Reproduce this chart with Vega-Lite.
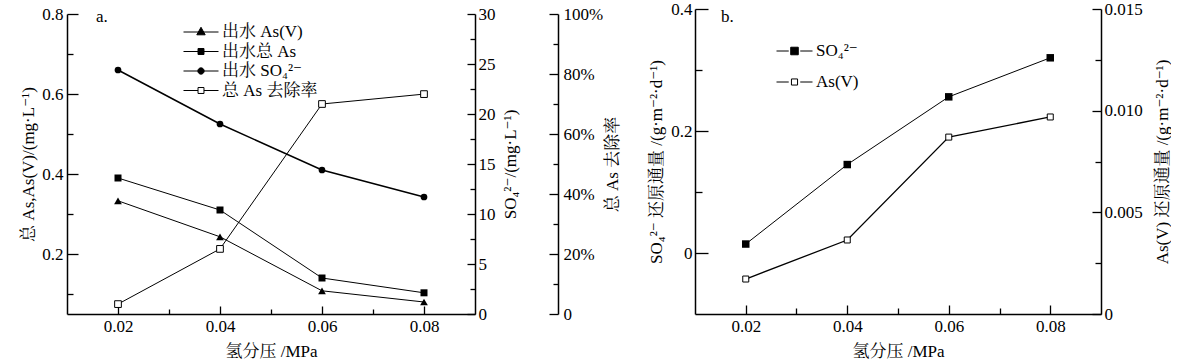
{
  "$schema": "https://vega.github.io/schema/vega-lite/v6.json",
  "padding": {"left": 19, "top": 0, "right": 0, "bottom": 0},
  "config": {
    "view": {"stroke": null},
    "font": "Liberation Serif, Noto Serif CJK SC, Noto Sans CJK SC",
    "axis": {
      "labelFont": "Liberation Serif, DejaVu Serif, Noto Sans CJK SC",
      "titleFont": "Liberation Serif, DejaVu Serif, Noto Serif CJK SC, Noto Sans CJK SC",
      "labelFontSize": 17, "titleFontSize": 17, "titleFontWeight": "normal",
      "labelColor": "black", "titleColor": "black",
      "domainColor": "black", "tickColor": "black",
      "domainWidth": 1.5, "tickWidth": 1.3, "grid": false,
      "labelFlush": false, "labelOverlap": false
    },
    "legend": {
      "labelFont": "Liberation Serif, DejaVu Serif, Noto Serif CJK SC, Noto Sans CJK SC",
      "labelFontSize": 17, "labelColor": "black", "padding": 0, "labelOffset": 3,
      "symbolStrokeWidth": 1, "symbolOpacity": 1, "clipHeight": 17
    },
    "concat": {"spacing": 26}
  },
  "hconcat": [
    {
      "width": 408, "height": 305,
      "data": {"values": [
        {"p": 0.02, "s": "出水 As(V)", "v": 0.333},
        {"p": 0.04, "s": "出水 As(V)", "v": 0.243},
        {"p": 0.06, "s": "出水 As(V)", "v": 0.108},
        {"p": 0.08, "s": "出水 As(V)", "v": 0.080},
        {"p": 0.02, "s": "出水总 As", "v": 0.39},
        {"p": 0.04, "s": "出水总 As", "v": 0.31},
        {"p": 0.06, "s": "出水总 As", "v": 0.14},
        {"p": 0.08, "s": "出水总 As", "v": 0.103},
        {"p": 0.02, "s": "出水 SO₄²⁻", "v": 24.4},
        {"p": 0.04, "s": "出水 SO₄²⁻", "v": 19.0},
        {"p": 0.06, "s": "出水 SO₄²⁻", "v": 14.4},
        {"p": 0.08, "s": "出水 SO₄²⁻", "v": 11.7},
        {"p": 0.02, "s": "总 As 去除率", "v": 0.033},
        {"p": 0.04, "s": "总 As 去除率", "v": 0.217},
        {"p": 0.06, "s": "总 As 去除率", "v": 0.70},
        {"p": 0.08, "s": "总 As 去除率", "v": 0.733}
      ]},
      "encoding": {
        "x": {"field": "p", "type": "quantitative", "scale": {"domain": [0.01, 0.09]},
          "axis": {"title": "氢分压 /MPa", "values": [0.02, 0.03, 0.04, 0.05, 0.06, 0.07, 0.08],
            "labelExpr": "round(datum.value*100)%2==0 ? format(datum.value,'.2f') : ''",
            "tickSize": {"condition": {"test": "round(datum.value*100)%2==0", "value": -8}, "value": -5},
            "labelPadding": 12, "titlePadding": 6}}
      },
      "layer": [
        {
          "encoding": {"y": {"field": "v", "type": "quantitative", "scale": {"domain": [0.05, 0.8], "range": [305, 5]},
            "axis": {"orient": "left", "title": "总 As,As(V)/(mg·L⁻¹)",
              "values": [0.1, 0.2, 0.3, 0.4, 0.5, 0.6, 0.7, 0.8],
              "labelExpr": "round(datum.value*10)%2==0 ? format(datum.value,'.1f') : ''",
              "tickSize": {"condition": {"test": "round(datum.value*10)%2==0", "value": -11}, "value": -6},
              "labelPadding": 15, "titlePadding": 4}}},
          "layer": [
            {"transform": [{"filter": "datum.s=='出水 As(V)' || datum.s=='出水总 As'"}],
             "mark": {"type": "line", "color": "black", "strokeWidth": 1},
             "encoding": {"detail": {"field": "s"}}},
            {"transform": [{"filter": "datum.s=='出水 As(V)'"}],
             "mark": {"type": "point", "shape": "triangle-up", "filled": true, "color": "black", "opacity": 1, "size": 60}},
            {"transform": [{"filter": "datum.s=='出水总 As'"}],
             "mark": {"type": "point", "shape": "square", "filled": true, "color": "black", "opacity": 1, "size": 49}},
            {"transform": [{"filter": "datum.s=='出水总 As' && datum.p==0.02"}],
             "mark": {"type": "text", "text": "a.", "font": "Liberation Serif", "fontSize": 17, "align": "left", "baseline": "middle", "color": "black"},
             "encoding": {"x": {"datum": 0.0157, "type": "quantitative"}, "y": {"datum": 0.7925, "type": "quantitative"}}}
          ]
        },
        {
          "transform": [{"filter": "datum.s=='出水 SO₄²⁻'"}],
          "encoding": {"y": {"field": "v", "type": "quantitative", "scale": {"domain": [0, 30], "range": [305, 5]},
            "axis": {"orient": "right", "title": "SO₄²⁻/(mg·L⁻¹)", "titleAngle": -90, "titleBaseline": "top",
              "values": [0, 2.5, 5, 7.5, 10, 12.5, 15, 17.5, 20, 22.5, 25, 27.5, 30],
              "labelExpr": "datum.value%5==0 ? format(datum.value,'d') : ''",
              "tickSize": {"condition": {"test": "datum.value%5==0", "value": -8}, "value": -5},
              "labelPadding": 11, "titlePadding": 7}}},
          "layer": [
            {"mark": {"type": "line", "color": "black", "strokeWidth": 1.5}},
            {"mark": {"type": "point", "shape": "circle", "filled": true, "color": "black", "opacity": 1, "size": 45}}
          ]
        },
        {
          "transform": [{"filter": "datum.s=='总 As 去除率'"}],
          "encoding": {"y": {"field": "v", "type": "quantitative", "scale": {"domain": [0, 1], "range": [305, 5]},
            "axis": {"orient": "right", "offset": 83, "title": "总 As 去除率", "titleAngle": -90, "titleBaseline": "top",
              "values": [0, 0.1, 0.2, 0.3, 0.4, 0.5, 0.6, 0.7, 0.8, 0.9, 1],
              "labelExpr": "round(datum.value*10)%2==0 ? (datum.value==0 ? '0' : format(datum.value,'.0%')) : ''",
              "tickSize": {"condition": {"test": "round(datum.value*10)%2==0", "value": -9}, "value": -5},
              "labelPadding": 14, "titlePadding": 2}}},
          "layer": [
            {"mark": {"type": "line", "color": "black", "strokeWidth": 1}},
            {"mark": {"type": "point", "shape": "square", "fill": "white", "stroke": "black", "strokeWidth": 1, "opacity": 1, "size": 45}}
          ]
        },
        {
          "transform": [{"filter": "false"}],
          "mark": {"type": "point", "opacity": 1, "size": 1225, "filled": true, "strokeWidth": 1},
          "encoding": {
            "shape": {"field": "s", "type": "nominal",
              "scale": {"domain": ["出水 As(V)", "出水总 As", "出水 SO₄²⁻", "总 As 去除率"],
                "range": ["M-1,0H1M0,-0.27L0.24,0.16L-0.24,0.16Z", "M-1,0H1M-0.17,-0.17H0.17V0.17H-0.17Z", "M-1,0H1M0.18,0A0.18,0.18,0,1,1,-0.18,0A0.18,0.18,0,1,1,0.18,0Z", "M-1,0H-0.17M0.17,0H1M-0.17,-0.17H0.17V0.17H-0.17Z"]},
              "legend": {"title": null, "orient": "none", "legendX": 116, "legendY": 14.5, "rowPadding": 1.5, "symbolSize": 1225, "clipHeight": 17}},
            "fill": {"field": "s", "type": "nominal",
              "scale": {"domain": ["出水 As(V)", "出水总 As", "出水 SO₄²⁻", "总 As 去除率"], "range": ["black", "black", "black", "white"]},
              "legend": {"title": null, "orient": "none", "legendX": 116, "legendY": 14.5, "rowPadding": 1.5, "symbolSize": 1225, "clipHeight": 17}},
            "stroke": {"field": "s", "type": "nominal",
              "scale": {"domain": ["出水 As(V)", "出水总 As", "出水 SO₄²⁻", "总 As 去除率"], "range": ["black", "black", "black", "black"]},
              "legend": {"title": null, "orient": "none", "legendX": 116, "legendY": 14.5, "rowPadding": 1.5, "symbolSize": 1225, "clipHeight": 17}}
          }
        }
      ],
      "resolve": {"scale": {"y": "independent"}}
    },
    {
      "width": 406, "height": 305,
      "data": {"values": [
        {"p": 0.02, "s": "SO₄²⁻", "v": 0.0147},
        {"p": 0.04, "s": "SO₄²⁻", "v": 0.145},
        {"p": 0.06, "s": "SO₄²⁻", "v": 0.256},
        {"p": 0.08, "s": "SO₄²⁻", "v": 0.32},
        {"p": 0.02, "s": "As(V)", "v": 0.00172},
        {"p": 0.04, "s": "As(V)", "v": 0.00364},
        {"p": 0.06, "s": "As(V)", "v": 0.0087},
        {"p": 0.08, "s": "As(V)", "v": 0.00969}
      ]},
      "encoding": {
        "x": {"field": "p", "type": "quantitative", "scale": {"domain": [0.01, 0.09]},
          "axis": {"title": "氢分压 /MPa", "values": [0.02, 0.03, 0.04, 0.05, 0.06, 0.07, 0.08],
            "labelExpr": "round(datum.value*100)%2==0 ? format(datum.value,'.2f') : ''",
            "tickSize": {"condition": {"test": "round(datum.value*100)%2==0", "value": -9}, "value": -6},
            "labelPadding": 13, "titlePadding": 6}}
      },
      "layer": [
        {
          "transform": [{"filter": "datum.s=='SO₄²⁻'"}],
          "encoding": {"y": {"field": "v", "type": "quantitative", "scale": {"domain": [-0.1, 0.4]},
            "axis": {"orient": "left", "title": "SO₄²⁻ 还原通量 /(g·m⁻²·d⁻¹)",
              "values": [0, 0.1, 0.2, 0.3, 0.4],
              "labelExpr": "round(datum.value*10)%2==0 ? (datum.value==0 ? '0' : format(datum.value,'.1f')) : ''",
              "tickSize": {"condition": {"test": "round(datum.value*10)%2==0", "value": -13}, "value": -7},
              "labelPadding": 16, "titlePadding": 5}}},
          "layer": [
            {"mark": {"type": "line", "color": "black", "strokeWidth": 1}},
            {"mark": {"type": "point", "shape": "square", "filled": true, "color": "black", "opacity": 1, "size": 56}},
            {"transform": [{"filter": "datum.p==0.02"}],
             "mark": {"type": "text", "text": "b.", "font": "Liberation Serif", "fontSize": 17, "align": "left", "baseline": "middle", "color": "black"},
             "encoding": {"x": {"datum": 0.0151, "type": "quantitative"}, "y": {"datum": 0.387, "type": "quantitative"}}}
          ]
        },
        {
          "transform": [{"filter": "datum.s=='As(V)'"}],
          "encoding": {"y": {"field": "v", "type": "quantitative", "scale": {"domain": [0, 0.015]},
            "axis": {"orient": "right", "title": "As(V) 还原通量 /(g·m⁻²·d⁻¹)", "titleAngle": -90, "titleBaseline": "top",
              "values": [0, 0.0025, 0.005, 0.0075, 0.01, 0.0125, 0.015],
              "labelExpr": "round(datum.value*400)%2==0 ? (datum.value==0 ? '0' : format(datum.value,'.3f')) : ''",
              "tickSize": {"condition": {"test": "round(datum.value*400)%2==0", "value": -9}, "value": -6},
              "labelPadding": 12, "titlePadding": 12}}},
          "layer": [
            {"mark": {"type": "line", "color": "black", "strokeWidth": 1.3}},
            {"mark": {"type": "point", "shape": "square", "fill": "white", "stroke": "black", "strokeWidth": 1, "opacity": 1, "size": 36}}
          ]
        },
        {
          "transform": [{"filter": "false"}],
          "mark": {"type": "point", "opacity": 1, "size": 1296, "filled": true, "strokeWidth": 1},
          "encoding": {
            "shape": {"field": "s", "type": "nominal",
              "scale": {"domain": ["SO₄²⁻", "As(V)"],
                "range": ["M-1,0H-0.32M0.32,0H1M-0.21,-0.21H0.21V0.21H-0.21Z", "M-1,0H-0.32M0.32,0H1M-0.17,-0.17H0.17V0.17H-0.17Z"]},
              "legend": {"title": null, "orient": "none", "legendX": 81, "legendY": 33.5, "rowPadding": 13, "symbolSize": 1296, "clipHeight": 17}},
            "fill": {"field": "s", "type": "nominal",
              "scale": {"domain": ["SO₄²⁻", "As(V)"], "range": ["black", "white"]},
              "legend": {"title": null, "orient": "none", "legendX": 81, "legendY": 33.5, "rowPadding": 13, "symbolSize": 1296, "clipHeight": 17}},
            "stroke": {"field": "s", "type": "nominal",
              "scale": {"domain": ["SO₄²⁻", "As(V)"], "range": ["black", "black"]},
              "legend": {"title": null, "orient": "none", "legendX": 81, "legendY": 33.5, "rowPadding": 13, "symbolSize": 1296, "clipHeight": 17}}
          }
        }
      ],
      "resolve": {"scale": {"y": "independent"}}
    }
  ],
  "resolve": {"scale": {"shape": "independent", "fill": "independent", "stroke": "independent"}, "legend": {"shape": "independent", "fill": "independent", "stroke": "independent"}}
}
